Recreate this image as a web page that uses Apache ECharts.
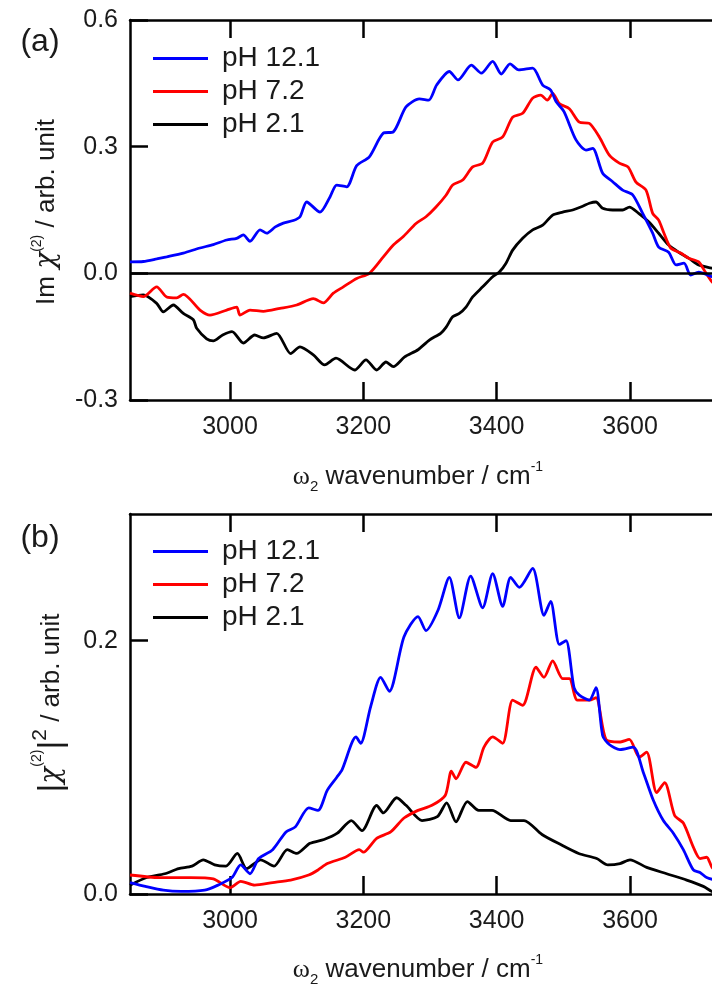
<!DOCTYPE html>
<html>
<head>
<meta charset="utf-8">
<script src="https://cdn.jsdelivr.net/npm/echarts@6/dist/echarts.min.js"></script>
<style>
html,body{margin:0;padding:0;background:#fff;overflow:hidden;}
#chart{width:712px;height:985px;}
</style>
</head>
<body>
<div id="chart"></div>
<script>
// ---------- DATA ----------
const seriesNames = ['pH 12.1', 'pH 7.2', 'pH 2.1'];
const xTicks = [3000, 3200, 3400, 3600];

// Panel (a): Im chi(2)
const wnA_ph12 = [2850,2870,2890,2905,2930,2955,2975,2995,3010,3020,3030,3045,3055,3068,3080,3095,3105,3115,3135,3150,3160,3175,3190,3209,3230,3245,3264,3284,3298,3310,3329,3342,3362,3377,3394,3407,3420,3433,3454,3469,3481,3489,3501,3519,3534,3544,3559,3574,3589,3604,3619,3634,3643,3658,3669,3681,3691,3703,3723,3735];
const imA_ph12 = [0.027,0.028,0.034,0.039,0.048,0.060,0.068,0.079,0.083,0.091,0.076,0.103,0.095,0.110,0.119,0.125,0.134,0.169,0.145,0.181,0.209,0.205,0.255,0.276,0.332,0.335,0.394,0.413,0.410,0.446,0.478,0.458,0.493,0.474,0.502,0.472,0.496,0.482,0.486,0.446,0.434,0.407,0.383,0.316,0.292,0.296,0.237,0.217,0.197,0.186,0.142,0.095,0.062,0.050,0.020,0.024,-0.004,0.003,-0.008,-0.012];

const wnA_ph7 = [2850,2870,2890,2905,2920,2930,2955,2970,2995,3010,3015,3030,3050,3075,3100,3125,3140,3155,3170,3190,3209,3230,3245,3260,3279,3294,3309,3324,3334,3349,3364,3379,3394,3409,3424,3439,3454,3466,3476,3484,3494,3509,3524,3539,3554,3569,3584,3597,3609,3624,3634,3643,3651,3661,3676,3688,3703,3713,3723,3735];
const imA_ph7 = [-0.047,-0.055,-0.032,-0.056,-0.058,-0.050,-0.087,-0.099,-0.087,-0.080,-0.099,-0.087,-0.090,-0.083,-0.075,-0.060,-0.070,-0.047,-0.032,-0.012,0.000,0.039,0.067,0.087,0.118,0.134,0.157,0.185,0.209,0.221,0.252,0.261,0.311,0.323,0.370,0.379,0.415,0.422,0.410,0.426,0.402,0.390,0.358,0.355,0.323,0.280,0.261,0.252,0.216,0.197,0.142,0.126,0.095,0.060,0.048,0.036,0.027,0.003,-0.020,-0.035];

const wnA_ph2 = [2850,2870,2890,2900,2915,2930,2945,2950,2965,2975,2989,3003,3020,3037,3050,3070,3091,3105,3125,3142,3159,3187,3204,3220,3234,3245,3262,3282,3299,3316,3324,3334,3344,3354,3364,3379,3394,3404,3414,3424,3439,3454,3469,3484,3499,3514,3529,3539,3549,3559,3574,3589,3599,3613,3628,3643,3658,3673,3688,3703,3723,3735];
const imA_ph2 = [-0.055,-0.051,-0.071,-0.091,-0.075,-0.095,-0.110,-0.130,-0.155,-0.160,-0.146,-0.138,-0.165,-0.146,-0.153,-0.142,-0.190,-0.174,-0.193,-0.217,-0.201,-0.229,-0.205,-0.229,-0.210,-0.221,-0.198,-0.181,-0.158,-0.142,-0.128,-0.103,-0.095,-0.080,-0.056,-0.032,-0.008,0.003,0.024,0.055,0.083,0.103,0.114,0.138,0.145,0.150,0.159,0.166,0.169,0.154,0.150,0.150,0.157,0.142,0.122,0.095,0.067,0.050,0.036,0.020,0.012,0.005];

// Panel (b): |chi(2)|^2
const wnB_ph12 = [2850,2873,2900,2927,2962,2982,3003,3016,3030,3043,3064,3084,3098,3118,3132,3146,3160,3168,3189,3196,3211,3226,3239,3261,3282,3294,3312,3329,3344,3361,3379,3394,3409,3421,3434,3454,3471,3481,3494,3504,3516,3524,3539,3549,3559,3569,3585,3605,3620,3635,3650,3665,3680,3695,3705,3715,3735];
const sqB_ph12 = [0.009,0.006,0.003,0.002,0.003,0.007,0.013,0.023,0.016,0.028,0.035,0.049,0.053,0.068,0.066,0.082,0.092,0.098,0.124,0.119,0.148,0.171,0.160,0.203,0.219,0.208,0.224,0.250,0.218,0.251,0.226,0.253,0.227,0.250,0.242,0.257,0.220,0.231,0.197,0.200,0.163,0.157,0.153,0.163,0.125,0.118,0.114,0.116,0.096,0.074,0.058,0.048,0.035,0.019,0.017,0.013,0.010];

const wnB_ph7 = [2850,2894,2941,2975,3000,3016,3037,3064,3091,3118,3132,3146,3173,3194,3200,3220,3241,3261,3282,3303,3323,3332,3339,3354,3369,3381,3394,3409,3424,3439,3459,3471,3484,3499,3509,3521,3539,3549,3564,3584,3599,3614,3625,3640,3652,3667,3680,3695,3705,3715,3723,3735];
const sqB_ph7 = [0.015,0.013,0.013,0.012,0.005,0.010,0.007,0.009,0.011,0.015,0.019,0.024,0.029,0.035,0.033,0.044,0.049,0.060,0.066,0.070,0.078,0.097,0.091,0.104,0.100,0.116,0.124,0.119,0.153,0.149,0.179,0.171,0.184,0.170,0.170,0.153,0.153,0.155,0.122,0.120,0.122,0.108,0.112,0.080,0.088,0.062,0.056,0.037,0.028,0.029,0.021,0.015];

const wnB_ph2 = [2850,2875,2902,2923,2943,2960,2977,2994,3011,3025,3046,3066,3086,3100,3120,3141,3161,3182,3198,3220,3230,3250,3264,3288,3311,3325,3339,3356,3373,3393,3421,3441,3468,3496,3523,3550,3567,3585,3600,3625,3655,3685,3710,3723,3735];
const sqB_ph2 = [0.007,0.013,0.016,0.020,0.022,0.027,0.023,0.022,0.032,0.020,0.027,0.022,0.035,0.032,0.040,0.043,0.048,0.058,0.050,0.070,0.064,0.076,0.070,0.058,0.061,0.072,0.057,0.073,0.066,0.066,0.058,0.058,0.047,0.039,0.032,0.028,0.023,0.024,0.027,0.021,0.016,0.011,0.006,0.002,0.000];

// ---------- STYLE ----------
const FONT = '"Liberation Sans", Arial, sans-serif';
const colors = ['#0000ff', '#ff0000', '#000000'];
const frameW = 2.5;
const TXT = '#1a1a1a';

const pair = (xs, ys) => xs.map((x, i) => [x, ys[i]]);

const grids = [
  { left: 130, top: 20, width: 600, height: 380, outerBoundsMode: 'none', containLabel: false },
  { left: 130, top: 514, width: 600, height: 380, outerBoundsMode: 'none', containLabel: false }
];

function xAxes(gi) {
  const base = {
    type: 'value', gridIndex: gi, min: 2850, max: 3750,
    splitLine: { show: false },
    axisLine: { show: true, onZero: false, lineStyle: { color: '#000', width: frameW } },
    axisTick: { show: true, inside: true, length: 18, customValues: xTicks, lineStyle: { color: '#000', width: frameW } }
  };
  return [
    Object.assign({}, base, {
      position: 'bottom',
      axisLabel: { show: true, customValues: xTicks, margin: 15, fontSize: 25, fontFamily: FONT, color: TXT,
                   formatter: v => String(Math.round(v)) }
    }),
    Object.assign({}, base, { position: 'top', axisLabel: { show: false } })
  ];
}

function yAxes(gi, min, max, interval) {
  const base = {
    type: 'value', gridIndex: gi, min: min, max: max, interval: interval,
    splitLine: { show: false },
    axisLine: { show: true, onZero: false, lineStyle: { color: '#000', width: frameW } },
    axisTick: { show: true, inside: true, length: 18, lineStyle: { color: '#000', width: frameW } }
  };
  return [
    Object.assign({}, base, {
      position: 'left',
      axisLabel: {
        show: true, margin: 12, fontSize: 25, fontFamily: FONT, color: TXT,
        showMaxLabel: gi === 0, showMinLabel: true,
        formatter: v => Math.abs(v / interval - Math.round(v / interval)) < 1e-6 ? (Math.abs(v) < 1e-9 ? '0.0' : v.toFixed(1)) : ''
      }
    }),
    Object.assign({}, base, { position: 'right', axisLabel: { show: false } })
  ];
}

function lineSeries(name, xi, yi, data, color, extra) {
  return Object.assign({
    name: name, type: 'line', xAxisIndex: xi, yAxisIndex: yi,
    data: data, showSymbol: false, symbol: 'none', smooth: 0.25,
    lineStyle: { color: color, width: 2.8 }, itemStyle: { color: color },
    clip: true, animation: false
  }, extra || {});
}

const legendBase = {
  orient: 'vertical', left: 148, itemWidth: 55, itemHeight: 3, itemGap: 0,
  icon: 'rect', data: seriesNames, selectedMode: false,
  textStyle: { fontSize: 28, fontFamily: FONT, color: TXT, lineHeight: 33, padding: [0, 0, 0, 9] }
};

const richBase = {
  t: { fontSize: 26, fontFamily: FONT, fill: TXT, lineHeight: 34, verticalAlign: 'middle' },
  chi: { fontSize: 28, fontFamily: '"DejaVu Serif", serif', fontStyle: 'italic', fill: TXT, lineHeight: 34, verticalAlign: 'middle' },
  sup: { fontSize: 14, fontFamily: FONT, fill: TXT, lineHeight: 14, verticalAlign: 'top' },
  sup2: { fontSize: 21, fontFamily: FONT, fill: TXT, lineHeight: 8, verticalAlign: 'top' },
  sub: { fontSize: 15, fontFamily: FONT, fill: TXT, lineHeight: 14, verticalAlign: 'bottom' },
  w: { fontSize: 26, fontFamily: '"Liberation Serif", serif', fill: TXT, lineHeight: 34, verticalAlign: 'middle' },
  bar: { fontSize: 34, fontFamily: FONT, fill: TXT, lineHeight: 44, verticalAlign: 'middle' }
};

function txt(x, y, text, rot, extra) {
  return Object.assign({
    type: 'text', x: x, y: y, rotation: rot || 0, silent: true,
    style: { text: text, rich: richBase, align: 'center', verticalAlign: 'middle',
             font: '26px ' + FONT, fill: TXT }
  }, extra || {});
}

const option = {
  backgroundColor: '#ffffff',
  animation: false,
  grid: grids,
  xAxis: [].concat(xAxes(0), xAxes(1)),
  yAxis: [].concat(yAxes(0, -0.3, 0.6, 0.3), yAxes(1, 0, 0.3, 0.2)),
  legend: [
    Object.assign({}, legendBase, { top: 37 }),
    Object.assign({}, legendBase, { top: 530 })
  ],
  series: [
    lineSeries(seriesNames[2], 0, 0, pair(wnA_ph2, imA_ph2), colors[2], {
      markLine: {
        silent: true, symbol: 'none', animation: false,
        label: { show: false },
        lineStyle: { color: '#000', width: frameW, type: 'solid' },
        emphasis: { disabled: true },
        data: [{ yAxis: 0 }]
      }
    }),
    lineSeries(seriesNames[1], 0, 0, pair(wnA_ph7, imA_ph7), colors[1]),
    lineSeries(seriesNames[0], 0, 0, pair(wnA_ph12, imA_ph12), colors[0]),
    lineSeries(seriesNames[2], 2, 2, pair(wnB_ph2, sqB_ph2), colors[2]),
    lineSeries(seriesNames[1], 2, 2, pair(wnB_ph7, sqB_ph7), colors[1]),
    lineSeries(seriesNames[0], 2, 2, pair(wnB_ph12, sqB_ph12), colors[0])
  ],
  graphic: [
    txt(40, 42, '(a)', 0, { style: { text: '(a)', font: '32px ' + FONT, fill: TXT, align: 'center', verticalAlign: 'middle' } }),
    txt(40, 538, '(b)', 0, { style: { text: '(b)', font: '32px ' + FONT, fill: TXT, align: 'center', verticalAlign: 'middle' } }),
    txt(47, 212, '{t|Im }{chi|χ}{sup|(2)}{t| / arb. unit}', Math.PI / 2),
    txt(52, 703, '{bar||}{chi|χ}{sup|(2)}{bar||}{sup2|2}{t| / arb. unit}', Math.PI / 2),
    txt(418, 477, '{w|ω}{sub|2}{t| wavenumber / cm}{sup|-1}', 0),
    txt(418, 970, '{w|ω}{sub|2}{t| wavenumber / cm}{sup|-1}', 0)
  ]
};

const chart = echarts.init(document.getElementById('chart'), null, { renderer: 'canvas' });
chart.setOption(option);
</script>
</body>
</html>
